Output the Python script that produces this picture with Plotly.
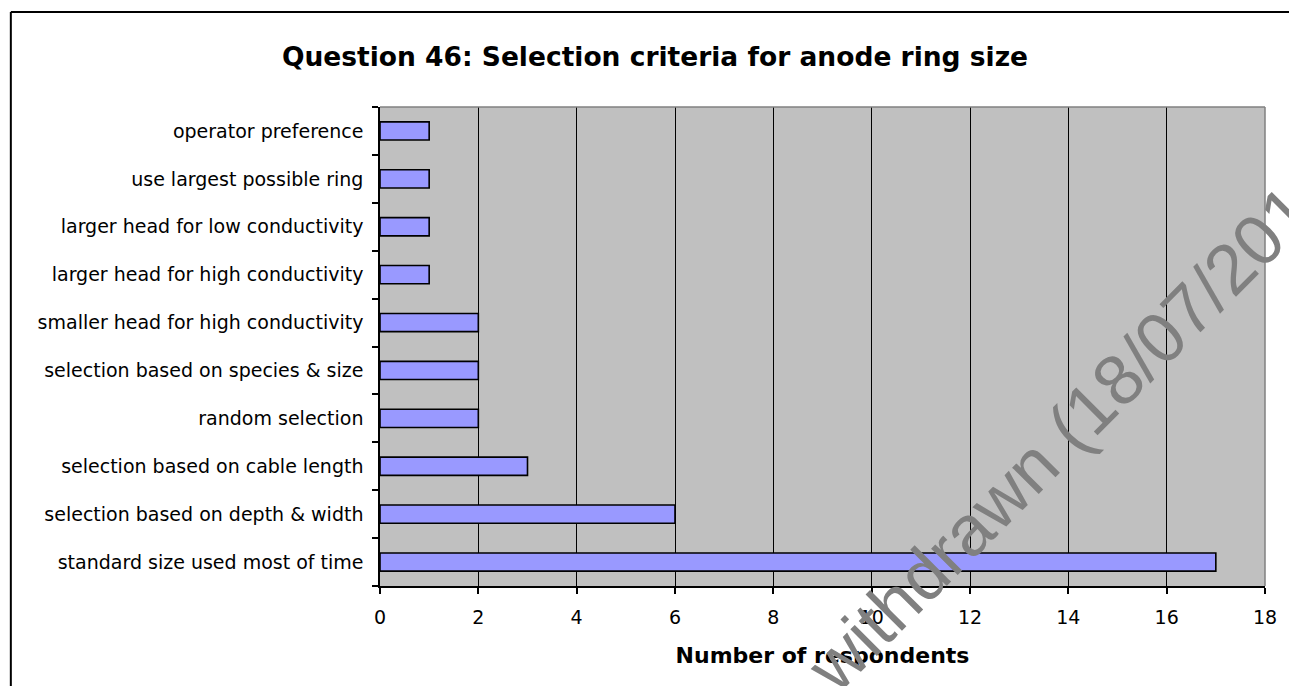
import plotly.graph_objects as go

# categories listed bottom to top
criteria = [
    "standard size used most of time",
    "selection based on depth & width",
    "selection based on cable length",
    "random selection",
    "selection based on species & size",
    "smaller head for high conductivity",
    "larger head for high conductivity",
    "larger head for low conductivity",
    "use largest possible ring",
    "operator preference",
]
respondents = [17, 6, 3, 2, 2, 2, 1, 1, 1, 1]
x_ticks = [0, 2, 4, 6, 8, 10, 12, 14, 16, 18]


def main():
    W, H = 1289, 686
    L, R, T, B = 380, 1267, 107, 586  # plot area in pixels
    pw, ph = R - L, B - T

    def px(x):
        return (x - L) / pw

    def py(y):
        return (B - y) / ph

    fig = go.Figure()
    fig.add_trace(go.Bar(
        y=criteria, x=respondents, orientation="h",
        marker=dict(color="#9999FF", line=dict(color="black", width=1.6)),
    ))

    fig.update_layout(
        width=W, height=H,
        margin=dict(l=L, r=W - R, t=T, b=H - B),
        paper_bgcolor="white", plot_bgcolor="#C0C0C0",
        bargap=0.62, showlegend=False,
        font=dict(family="DejaVu Sans", size=19, color="black"),
        title=dict(text="<b>Question 46: Selection criteria for anode ring size</b>",
                   x=655 / W, xanchor="center", y=1 - 57 / H, yanchor="middle",
                   font=dict(family="DejaVu Sans", size=26.5, color="black")),
    )
    fig.update_xaxes(
        range=[0, 18], tickvals=x_ticks, showgrid=True, gridcolor="black", gridwidth=1,
        zeroline=False, showline=True, linecolor="black", linewidth=1.5,
        ticks="outside", ticklen=6, tickcolor="black", tickwidth=1.5,
        ticklabelstandoff=7,
        title=dict(text="<b>Number of respondents</b>", standoff=21,
                   font=dict(family="DejaVu Sans", size=22)),
    )
    fig.update_yaxes(
        type="category", tickson="boundaries", showgrid=False, zeroline=False,
        showline=True, linecolor="black", linewidth=1.5,
        ticks="outside", ticklen=6, tickcolor="black", tickwidth=1.5,
        ticklabelstandoff=11,
    )

    # grey top and right border of the plot area
    fig.add_shape(type="line", xref="paper", yref="paper", x0=0, x1=1, y0=1, y1=1,
                  line=dict(color="#808080", width=1.5))
    fig.add_shape(type="line", xref="paper", yref="paper", x0=1, x1=1, y0=0, y1=1,
                  line=dict(color="#808080", width=1.5))
    # outer chart frame (left and top edges visible)
    fig.add_shape(type="line", xref="paper", yref="paper", x0=px(10), x1=px(10),
                  y0=py(12), y1=py(H + 5), line=dict(color="black", width=2))
    fig.add_shape(type="line", xref="paper", yref="paper", x0=px(10), x1=px(W + 5),
                  y0=py(12), y1=py(12), line=dict(color="black", width=2))

    # watermark
    fig.add_annotation(
        text="withdrawn (18/07/2016)", xref="paper", yref="paper",
        x=px(1083), y=py(416), xanchor="center", yanchor="middle",
        textangle=-45, showarrow=False,
        font=dict(family="Liberation Sans", size=71, color="#808080"),
    )

    fig.write_html("out.html", config={"displayModeBar": False}, post_script=(
        "document.body.style.margin='0';"
        "document.body.style.overflow='hidden';"))


if __name__ == '__main__':
    main()
